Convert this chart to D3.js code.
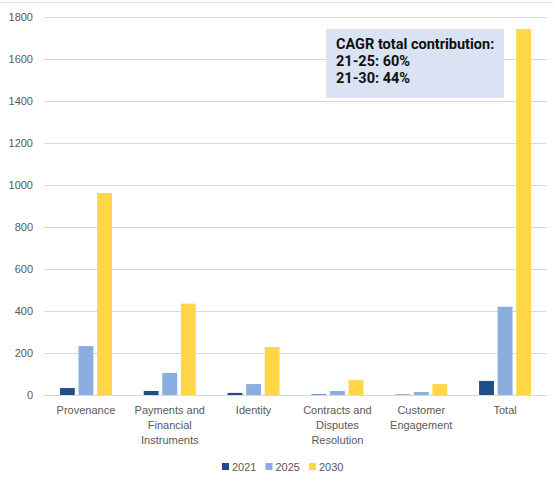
<!DOCTYPE html>
<html>
<head>
<meta charset="utf-8">
<script src="https://cdn.jsdelivr.net/npm/d3@7"></script>
<style>
  html, body { margin: 0; padding: 0; background: #fff; }
  svg { display: block; }
</style>
</head>
<body>
<svg id="chart" width="556" height="483"></svg>
<script>
const categories = [
  ["Provenance"],
  ["Payments and", "Financial", "Instruments"],
  ["Identity"],
  ["Contracts and", "Disputes", "Resolution"],
  ["Customer", "Engagement"],
  ["Total"]
];
const seriesNames = ["2021", "2025", "2030"];
const values2021 = [33, 19, 10, 3, 2, 67];
const values2025 = [233, 105, 52, 19, 14, 420];
const values2030 = [962, 435, 228, 71, 52, 1743];
const yTicks = [0, 200, 400, 600, 800, 1000, 1200, 1400, 1600, 1800];
const colors = ["#1f4e86", "#8aaedf", "#ffd645"];
const noteLines = ["CAGR total contribution:", "21-25: 60%", "21-30: 44%"];

const seriesValues = [values2021, values2025, values2030];
const svg = d3.select("#chart");
const font = "'Liberation Sans', Arial, sans-serif";
const textColor = "#595959";

const plot = { left: 44, right: 547, top: 17, bottom: 395 };

const y = d3.scaleLinear().domain([0, 1800]).range([plot.bottom, plot.top]);
const x0 = d3.scaleBand().domain(d3.range(categories.length))
  .range([plot.left, plot.right]).paddingInner(0.38).paddingOuter(0.19);
const x1 = d3.scaleBand().domain(d3.range(seriesNames.length))
  .range([0, x0.bandwidth()]).paddingInner(0.2).paddingOuter(0);

// top border line
svg.append("line").attr("x1", 0).attr("x2", 553).attr("y1", 2.5).attr("y2", 2.5)
  .attr("stroke", "#e3e3e3").attr("stroke-width", 1);

// gridlines
svg.append("g").selectAll("line").data(yTicks).join("line")
  .attr("x1", plot.left).attr("x2", plot.right)
  .attr("y1", d => Math.round(y(d)) + 0.5).attr("y2", d => Math.round(y(d)) + 0.5)
  .attr("stroke", "#d9d9d9").attr("stroke-width", 1);

// y axis labels
const yAxis = d3.axisLeft(y).tickValues(yTicks).tickFormat(d3.format("d")).tickSize(0).tickPadding(0);
const yg = svg.append("g").attr("transform", `translate(33,0)`).call(yAxis);
yg.select(".domain").remove();
yg.selectAll("text").attr("fill", textColor).style("font-family", font).style("font-size", "11px");

// bars
const groups = svg.append("g").selectAll("g").data(categories).join("g")
  .attr("transform", (d, i) => `translate(${x0(i)},0)`);
groups.selectAll("rect").data((d, i) => seriesValues.map((s, k) => ({ k, v: s[i] }))).join("rect")
  .attr("x", d => x1(d.k))
  .attr("width", x1.bandwidth())
  .attr("y", d => y(d.v))
  .attr("height", d => y(0) - y(d.v))
  .attr("fill", d => colors[d.k]);

// x labels
const xl = svg.append("g").selectAll("text").data(categories).join("text")
  .attr("x", (d, i) => x0(i) + x0.bandwidth() / 2)
  .attr("y", 414)
  .attr("text-anchor", "middle")
  .attr("fill", textColor)
  .style("font-family", font).style("font-size", "11px");
xl.selectAll("tspan").data(d => d).join("tspan")
  .attr("x", function () { return d3.select(this.parentNode).attr("x"); })
  .attr("dy", (d, j) => j === 0 ? 0 : 15)
  .text(d => d);

// annotation box
svg.append("rect").attr("x", 326).attr("y", 29).attr("width", 178).attr("height", 69)
  .attr("fill", "#dae3f3");
svg.append("g").selectAll("text").data(noteLines).join("text")
  .attr("x", 336).attr("y", (d, i) => 49 + i * 17)
  .attr("fill", "#111")
  .style("font-family", "Roboto, 'Liberation Sans', sans-serif")
  .style("font-weight", "bold").style("font-size", "14.5px")
  .text(d => d);

// legend
const legend = svg.append("g");
let lx = 222;
seriesNames.forEach((name, k) => {
  legend.append("rect").attr("x", lx).attr("y", 463).attr("width", 7).attr("height", 7).attr("fill", colors[k]);
  const t = legend.append("text").attr("x", lx + 10).attr("y", 471)
    .attr("fill", textColor).style("font-family", font).style("font-size", "11px").text(name);
  lx += 10 + t.node().getComputedTextLength() + 9;
});
</script>
</body>
</html>
